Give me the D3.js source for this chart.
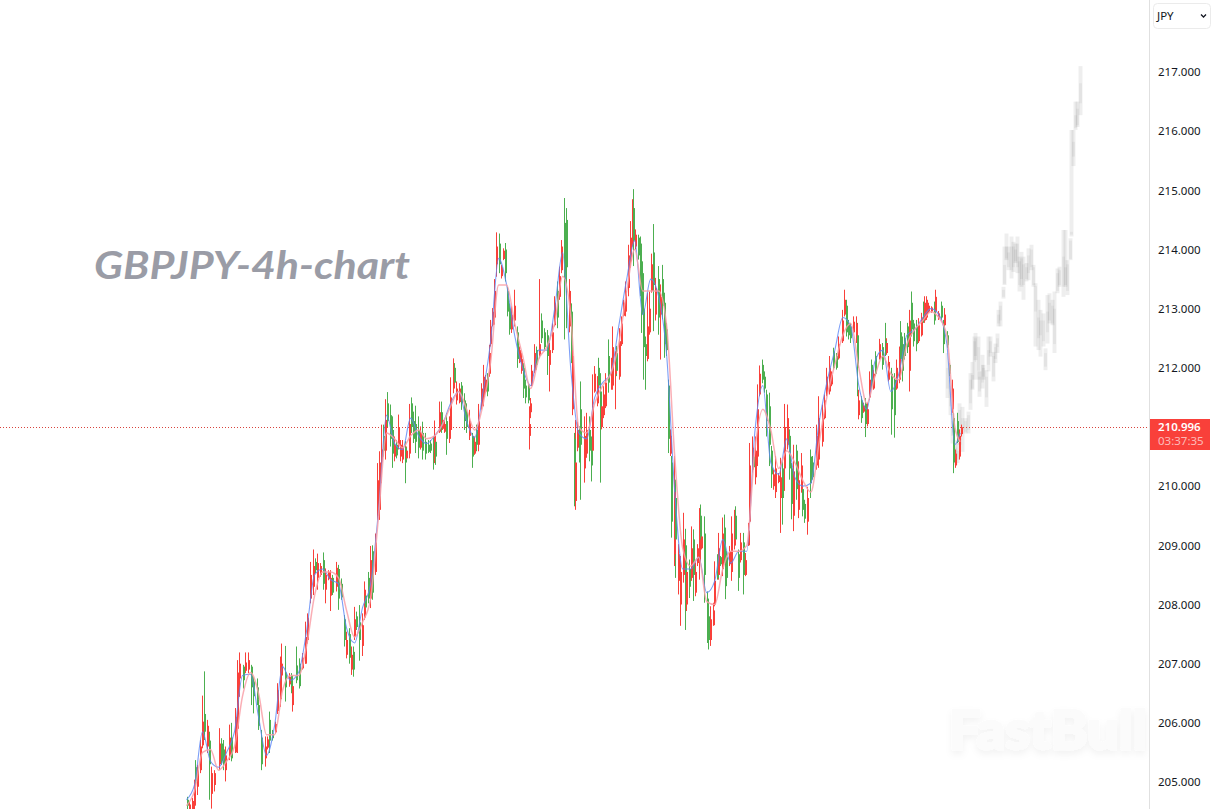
<!DOCTYPE html>
<html><head><meta charset="utf-8">
<style>html,body{margin:0;padding:0;background:#fff;overflow:hidden}svg{display:block}</style>
<script src="https://cdn.jsdelivr.net/npm/d3@7/dist/d3.min.js"></script>
</head><body><svg id="c" width="1217" height="809"></svg>
<script>
const chartTitle = "GBPJPY-4h-chart";
const watermark = "FastBull";
const currency = "JPY";
const lastPrice = 210.996;
const countdown = "03:37:35";
const priceTicks = [205,206,207,208,209,210,212,213,214,215,216,217];

const barSlot = [
0,1,2,2.75,3.25,4,5,5.75,6.5,7.75,
8.4,9.25,10.25,12,13,13.6,14.6,16,16.5,18,
18.75,19.6,21.1,22.1,23,24.25,25,26.25,26.75,28,
29.25,30,31,32,33,34,35,35.5,36.75,38.4,
39,39.6,40.9,42.1,43.4,44.25,45.25,46.25,47.4,48.1,
49,50,51.25,52.1,53,53.75,54.6,55.9,56.75,57.75,
59,59.9,60.9,61.75,62.25,62.75,63.4,64.6,65.6,66.5,67,68,68.75,
69.6,70.5,
71.4,72,72.9,73.7,74.5,75.2,76.2,77,77.9,78.4,
79.2,80.2,80.8,81.8,82.4,83.3,84.2,84.9,85.6,86.6,
87.4,88.3,89.5,90.4,91.1,92.3,92.6,93.3,94.5,95.5,
95.9,96.6,97.4,98.3,98.9,99.8,100.4,101.2,102.3,102.9,
103.9,104.9,105.9,106.9,107.8,108.4,109.3,110.4,111,111.9,
112.6,113.2,113.6,114.5,115.4,116.1,117.2,117.9,118.7,119.5,
120.2,120.8,121.7,122.7,123.7,124.5,125.4,126.2,127,127.9,
128.2,128.7,129.3,130.2,131,132,132.9,133.9,135.1,135.8,
137,137.9,138.7,139.5,140.5,141.4,142.4,143.3,144,144.5,
145.1,145.6,146.2,147,147.6,148.9,149.9,150.7,151.6,152,
152.9,153.8,154.1,155.1,155.5,156.1,157,157.9,159,159.5,
160.5,161.1,162,162.9,163.6,164.5,165.5,166.4,167,167.4,
168.2,169.1,169.9,170.4,171,172,172.6,173.2,174.1,174.9,
175,175.7,176.6,177.6,178.1,178.9,179.7,180.4,181.1,181.6,
182.9,183.2,184.1,185.1,186,186.7,187.4,188.2,189.1,189.7,
190.7,191.4,192.1,192.6,193,193.9,195.1,195.5,196.1,197.2,
197.8,198.9,199.1,199.9,200.6,201.4,201.7,202.2,203.2,204.1,
205.1,205.7,206.7,207.6,208.5,209.5,210.5,211,212,212.2,
213.2,213.8,214.7,215.7,216.4,217.2,218.2,219.1,219.8,220.7,
221.6,222.4,223.3,224,225,225.9,226.5,227.5,228.5,229.3,
230.2,230.8,231.6,232.7,233.7,234.6,235.8,236.8,238.1,239,
239.7,240.7,241.6,242.5,243.4,244.3,245.6,246.4,247.2,248.1,
248.7,250,251,251.5,251.8,252.8,253.7,254.3,255.2,255.7,
256.6,257.5,258.2,259.6,260.6,261.8,262.1,263.1,264,265,
266,267,267.5,268.3,269.1,270,270.8,271.5,272.2,273.3,
274.3,275.2,276.2,276.5,277.1,278.1,279,280,280.6,281.6,
282.8,283.5,284,285,285.8,286.8,287.2,288.1,288.7,289.6,290.3
];
const barHigh = [
204.75,204.66,204.73,205.04,205.37,205.29,205.71,206.46,206.87,206.05,
205.85,205.26,205.20,205.91,205.74,205.71,205.60,205.97,206.00,206.25,
207.06,207.19,206.98,207.19,207.19,206.98,206.78,206.75,206.40,205.88,
205.77,205.77,206.19,205.88,206.02,206.67,207.12,207.34,207.30,206.84,
206.84,206.73,207.29,207.09,207.18,207.71,207.85,208.72,208.93,208.78,
208.86,208.70,208.88,208.61,208.58,208.58,208.50,208.72,208.67,208.44,
207.82,207.54,207.60,207.29,207.29,207.96,207.88,207.99,207.85,208.39,208.19,208.55,208.99,
209.00,209.20,
210.39,210.59,211.04,211.04,211.47,211.59,211.38,211.18,210.84,210.78,
211.21,210.78,210.78,210.76,210.67,211.39,211.50,211.26,211.36,211.18,
211.01,211.09,210.90,210.78,210.78,210.84,211.11,210.84,211.43,211.43,
211.21,211.12,211.23,211.18,211.84,212.16,212.08,211.77,211.74,211.76,
211.57,211.40,211.29,210.90,210.84,211.04,211.39,211.74,212.05,211.88,
211.91,212.39,212.81,213.01,213.50,214.29,214.27,213.74,214.02,214.11,
213.37,213.09,213.04,213.32,212.70,212.36,212.25,212.08,211.80,211.74,
211.35,211.49,212.05,212.40,212.36,213.50,212.92,212.67,212.64,212.42,
212.75,213.21,213.46,213.71,214.16,214.87,214.70,213.50,213.09,212.53,
210.90,211.12,211.09,211.01,211.77,211.18,211.24,211.18,210.84,211.89,
212.03,211.86,212.17,211.91,211.52,211.69,211.91,212.48,212.17,212.70,
212.28,212.37,212.67,212.87,213.15,213.46,214.08,214.48,214.85,215.02,
214.34,214.25,214.22,213.97,213.60,212.53,213.27,213.29,213.93,214.08,
214.43,213.52,213.72,213.41,213.74,213.27,212.76,211.80,210.96,210.51,
210.51,210.11,209.02,208.82,209.55,209.28,208.79,208.76,209.32,209.27,
208.71,209.02,209.63,209.69,209.27,209.49,208.22,208.03,207.97,208.03,
208.73,208.85,209.21,208.82,209.47,209.52,208.99,208.90,208.99,209.49,
209.60,209.66,208.93,209.21,209.21,208.87,209.38,210.73,210.84,210.56,
210.84,211.72,212.04,212.14,211.94,211.63,211.58,210.68,210.28,210.51,
210.22,210.48,210.45,211.39,211.38,210.96,210.39,210.70,210.70,210.42,
210.56,209.99,209.77,209.99,210.62,210.51,211.04,211.52,211.38,211.55,
212.00,212.20,211.94,212.34,212.25,212.53,212.98,213.32,213.15,212.81,
212.76,212.87,212.87,212.76,211.63,211.52,211.41,211.49,211.41,211.94,
212.14,211.97,212.28,212.49,212.42,212.76,212.50,212.20,212.00,211.91,
212.14,212.36,212.79,212.53,212.59,212.76,212.98,213.29,212.81,212.81,
212.84,212.93,213.12,213.21,213.21,213.10,213.04,213.12,213.32,212.96,
213.12,212.81,213.01,212.62,212.08,211.80,211.24,210.62,211.24,210.96,211.04
];
const barLow = [
204.50,204.50,204.50,204.52,204.92,204.78,205.15,205.57,205.71,205.49,
204.70,204.55,204.84,205.20,205.29,205.20,205.01,205.37,205.35,205.49,
205.49,206.44,206.58,206.84,206.84,206.30,206.16,206.30,205.88,205.20,
205.26,205.55,205.49,205.70,205.82,206.15,206.27,206.67,206.36,206.61,
206.50,206.19,206.67,206.58,206.90,207.00,207.34,208.02,208.16,208.53,
208.25,208.47,208.25,208.02,208.41,207.89,208.16,208.22,207.91,208.08,
207.29,207.09,207.00,206.81,206.78,207.40,207.57,207.05,207.13,207.74,207.91,208.02,207.94,
208.08,208.50,
209.43,209.43,210.05,210.50,210.45,211.00,210.67,210.31,210.42,210.47,
210.62,210.42,210.39,210.05,210.45,210.47,210.90,210.73,210.56,210.47,
210.62,210.45,210.45,210.56,210.56,210.28,210.39,210.36,210.90,210.90,
210.95,210.90,210.53,210.73,210.84,211.57,211.69,211.38,211.40,211.29,
210.95,210.90,210.78,210.31,210.53,210.59,210.59,211.29,211.35,211.57,
211.52,211.85,212.36,212.70,212.73,213.54,213.60,213.51,213.82,213.46,
212.87,212.56,212.59,212.70,212.00,212.08,211.90,211.49,211.40,211.40,
210.62,211.15,211.69,211.91,211.97,212.16,212.42,212.28,211.88,211.60,
212.25,212.70,212.67,213.15,213.60,212.48,212.67,212.60,212.08,211.20,
209.66,209.60,210.59,210.40,209.77,210.06,210.48,210.42,210.08,210.48,
211.58,211.35,211.58,210.06,210.96,211.15,211.32,211.58,211.63,211.63,
211.30,211.86,211.80,212.37,212.87,212.87,213.21,213.69,214.05,213.72,
214.00,213.83,213.21,212.59,211.80,211.63,212.11,212.56,213.27,213.58,
212.62,212.80,212.56,212.14,212.82,212.17,212.20,210.56,210.51,209.13,
208.65,208.45,208.17,207.64,208.37,207.57,207.89,208.11,208.40,208.06,
208.14,208.65,208.42,209.02,208.93,208.03,207.35,207.24,207.30,207.64,
207.97,208.42,208.42,208.65,208.48,208.70,208.09,208.31,208.65,208.40,
208.93,209.00,208.23,208.71,208.17,208.48,208.99,209.38,210.23,210.28,
210.03,210.34,211.52,211.74,211.58,210.84,210.34,209.97,209.94,209.80,
210.05,209.21,209.35,209.92,210.62,210.11,209.44,209.24,209.77,209.46,
209.89,209.49,209.38,209.18,209.80,210.11,210.28,210.31,210.67,211.13,
211.52,211.55,211.69,211.97,211.97,212.14,212.42,212.87,212.53,212.48,
212.42,212.59,212.42,211.52,211.13,211.07,211.24,210.83,211.01,211.46,
211.63,211.63,211.86,212.14,211.97,212.20,212.22,211.77,210.87,210.82,
211.63,211.74,212.05,211.77,212.14,212.25,211.60,212.53,212.36,212.28,
212.42,212.53,212.76,212.76,212.81,212.93,212.93,212.73,212.93,212.81,
212.81,212.25,212.70,212.34,211.86,211.24,210.22,210.31,210.73,210.45,210.84
];
const barOpen = [
204.70,204.52,204.54,204.60,205.25,204.92,205.20,205.62,206.15,205.60,
205.70,204.80,204.95,205.30,205.65,205.55,205.20,205.45,205.75,205.50,
205.90,206.75,206.95,206.88,206.90,206.95,206.70,206.60,206.30,205.75,
205.40,205.58,206.05,205.82,205.84,206.20,206.40,206.80,206.85,206.65,
206.80,206.30,206.97,207.00,206.92,207.00,207.40,208.10,208.30,208.72,
208.45,208.50,208.75,208.25,208.43,208.15,208.45,208.30,208.60,208.35,
207.75,207.15,207.50,206.90,207.20,207.45,207.80,207.70,207.30,207.78,208.15,208.45,208.10,
208.90,208.55,
209.50,209.60,210.40,210.85,210.60,211.40,211.20,210.95,210.50,210.70,
210.70,210.50,210.45,210.65,210.47,210.55,211.40,211.10,211.05,210.95,
210.65,210.90,210.75,210.70,210.72,210.72,210.55,210.75,210.92,211.25,
210.97,210.92,211.10,210.80,210.95,211.65,212.00,211.45,211.42,211.70,
211.45,211.25,210.85,210.85,210.55,210.95,210.70,211.35,211.50,211.60,
211.85,211.90,212.40,212.72,212.85,213.75,214.10,213.55,213.84,214.00,
213.30,213.00,212.65,212.80,212.60,212.10,211.95,212.00,211.70,211.70,
210.85,211.25,211.70,211.95,212.30,212.20,212.80,212.60,212.55,212.05,
212.30,212.72,213.30,213.20,213.65,214.45,214.50,212.70,212.95,211.30,
210.80,209.75,210.65,210.90,211.30,210.30,210.55,210.95,210.70,210.60,
211.60,211.40,212.00,211.60,211.00,211.20,211.35,212.20,211.65,211.70,
211.90,212.25,211.85,212.40,212.88,212.95,213.35,213.80,214.10,214.70,
214.05,214.20,214.10,213.80,213.00,212.40,212.15,212.60,213.30,213.60,
213.95,212.90,213.50,212.90,213.50,213.10,212.65,211.70,210.55,210.40,
208.85,209.80,208.40,208.00,208.50,209.00,208.00,208.60,208.45,209.10,
208.20,208.70,208.70,209.50,208.95,209.20,208.10,207.80,207.40,207.65,
208.00,208.70,208.50,208.80,208.60,209.30,208.90,208.80,208.68,208.55,
209.00,209.50,208.85,208.75,209.05,208.50,209.00,209.40,210.30,210.50,
210.15,210.50,211.55,212.05,211.85,211.55,211.35,210.60,210.00,209.90,
210.07,209.80,210.30,210.30,210.70,210.85,210.30,209.50,210.60,209.60,
209.95,209.95,209.70,209.40,210.50,210.40,210.35,210.45,210.75,211.15,
211.55,211.60,211.72,212.28,212.20,212.16,212.45,212.90,213.05,212.75,
212.70,212.60,212.45,212.55,211.20,211.45,211.26,211.40,211.05,211.50,
212.05,211.65,212.20,212.15,212.35,212.45,212.25,211.80,211.90,211.80,
211.65,211.80,212.60,212.40,212.50,212.70,211.95,213.10,212.75,212.70,
212.45,212.55,213.05,212.80,212.85,212.95,212.95,213.05,212.95,212.83,
213.05,212.75,212.72,212.55,212.05,211.30,211.15,210.35,211.10,210.50,210.88
];
const barClose = [
204.60,204.62,204.68,204.98,205.02,205.20,205.60,206.02,205.85,205.95,
205.30,205.15,205.15,205.65,205.35,205.30,205.45,205.75,205.40,206.10,
206.85,207.00,206.72,207.02,207.06,206.60,206.45,206.40,205.95,205.30,
205.60,205.72,205.70,205.74,205.98,206.55,206.90,207.00,206.60,206.78,
206.55,206.62,206.72,206.62,207.10,207.45,207.78,208.50,208.65,208.58,
208.70,208.65,208.35,208.50,208.55,208.45,208.20,208.62,208.10,208.12,
207.40,207.40,207.10,207.15,206.90,207.75,207.62,207.40,207.65,208.25,207.95,208.10,208.75,
208.20,209.05,
210.10,210.40,210.62,210.60,211.12,211.10,210.80,210.55,210.70,210.52,
211.00,210.70,210.65,210.40,210.60,211.05,211.00,210.80,210.75,210.65,
210.90,210.60,210.55,210.58,210.60,210.55,210.85,210.50,211.25,211.00,
211.12,211.05,210.80,211.05,211.50,212.00,211.75,211.65,211.65,211.40,
211.10,211.00,211.10,210.50,210.75,210.70,211.10,211.65,211.85,211.80,
211.60,212.25,212.70,212.95,213.30,214.05,213.75,213.70,213.98,213.60,
212.95,212.65,212.90,213.05,212.15,212.30,212.15,211.65,211.50,211.45,
211.05,211.40,211.95,212.25,212.05,212.40,212.50,212.35,212.20,212.30,
212.60,213.10,212.85,213.55,214.05,213.50,213.70,213.30,212.30,212.20,
210.20,210.40,210.95,210.50,210.70,210.85,210.95,210.60,210.35,211.35,
211.90,211.75,211.70,211.30,211.35,211.55,211.75,211.75,211.95,212.35,
212.15,211.95,212.45,212.75,213.10,213.30,213.90,214.20,214.60,214.15,
214.25,213.90,213.40,212.90,212.35,212.20,212.70,213.00,213.75,213.90,
213.40,213.35,212.85,213.20,213.05,212.40,212.30,210.80,210.85,209.40,
209.90,209.10,208.85,208.55,209.10,208.20,208.55,208.30,208.95,208.50,
208.55,208.95,209.40,209.10,209.15,208.50,207.60,207.40,207.75,207.90,
208.40,208.45,208.95,208.68,209.20,208.90,208.40,208.45,208.90,209.20,
209.40,209.10,208.45,209.05,208.50,208.75,209.25,210.35,210.65,210.32,
210.60,211.30,211.90,211.80,211.65,211.10,210.70,210.20,210.20,210.30,
210.18,210.15,209.80,211.00,211.15,210.30,209.70,210.25,209.95,210.10,
210.35,209.60,209.45,209.80,210.05,210.15,210.85,211.15,211.15,211.45,
211.85,212.00,211.88,212.00,212.00,212.40,212.80,213.15,212.60,212.55,
212.50,212.78,212.75,212.00,211.45,211.15,211.36,211.05,211.30,211.80,
211.70,211.90,211.90,212.40,212.05,212.25,212.42,212.10,211.30,211.20,
212.00,212.20,212.15,211.95,212.20,212.35,212.80,212.65,212.45,212.40,
212.72,212.85,212.80,213.10,213.15,213.05,213.02,212.80,213.20,212.92,
212.85,212.40,212.90,212.38,211.90,211.65,210.40,210.55,210.75,210.85,210.996
];

const maSlot = [0,3,6,9,12,15,18,21,24,27,30,33,36,39,42,45,48,51,54,57,60,63,66,69,72,75,78,81,84,87,90,93,96,99,102,105,108,111,114,117,120,123,126,129,132,135,138,141,144,147,150,153,156,159,162,165,168,171,174,177,180,183,186,189,192,195,198,201,204,207,210,213,216,219,222,225,228,231,234,237,240,243,246,249,252,255,258,261,264,267,270,273,276,279,282,285,288,290];
const maFast = [204.7,204.95,205.85,205.35,205.25,205.5,205.85,206.8,206.82,206.1,205.45,205.95,206.95,206.72,206.85,207.55,208.5,208.6,208.42,208.35,207.6,207.35,207.95,208.35,209.6,211.2,210.72,210.62,211.15,210.85,210.72,210.85,211.05,211.4,211.6,211.1,210.82,211.55,212.45,213.85,213.4,212.55,212.0,211.7,212.3,212.3,213.0,213.95,212.0,210.9,210.8,211.5,211.75,211.9,212.7,213.5,214.15,212.9,213.5,213.2,212.2,209.9,208.6,208.6,208.8,208.2,208.4,209.1,208.7,208.9,208.9,210.9,211.7,210.4,210.2,210.8,210.15,210.0,210.05,211.05,211.75,212.3,212.85,212.7,211.7,211.3,212.1,212.3,211.6,211.9,212.55,212.65,212.85,213.0,212.9,212.4,210.7,210.9];
const maSlow = [204.6,204.85,205.5,205.55,205.2,205.35,205.6,206.45,206.85,206.5,205.8,205.8,206.55,206.8,206.8,207.3,208.15,208.55,208.55,208.45,207.9,207.45,207.7,208.1,209.5,210.9,210.8,210.65,210.85,210.95,210.8,210.85,211.05,211.35,211.6,211.3,210.95,211.35,212.1,213.4,213.4,212.75,212.2,211.65,212.15,212.35,212.75,213.55,212.9,211.0,210.9,211.4,211.7,211.9,212.4,213.3,214.0,213.3,213.3,213.3,212.7,210.5,208.95,208.65,208.8,208.05,208.0,208.6,208.9,208.9,209.0,210.6,211.3,210.95,210.3,210.6,210.4,210.1,209.9,210.7,211.5,212.05,212.55,212.75,212.0,211.4,211.85,212.2,211.9,211.8,212.4,212.65,212.8,212.95,212.85,212.55,211.0,210.75];

const ghostSlot = [285,286,287,288,288.7,289.7,290.7,291.7,293,293.6,294.3,295,295.6,296.5,297.15,298,298.65,299.5,300.5,301.15,302.15,303,303.65,304.3,304.9,305.9,306.4,307.3,308,308.9,309.65,310.4,311.15,311.9,312.8,313.65,314.5,315.5,316.4,317.15,318,319,319.9,320.9,321.65,322.4,323.4,324.5,325.15,326.15,327.15,328.4,329.4,330.15,331.15,331.4,332.2,333,333.9,334.9];
const ghostHigh = [212.25,211.80,211.23,210.78,210.73,211.40,211.34,211.15,211.26,211.91,212.10,212.53,212.59,212.53,211.94,212.22,212.05,211.96,212.53,212.53,212.27,212.41,212.58,212.98,213.12,213.37,214.05,214.27,214.05,214.22,214.13,214.10,214.22,213.88,213.96,213.88,213.77,214.02,214.08,213.74,213.43,213.15,212.98,212.92,212.33,213.23,213.26,213.15,213.29,213.68,213.71,214.33,214.33,213.82,214.19,216.02,216.02,216.50,216.50,217.10];
const ghostLow = [211.49,211.20,210.72,210.36,210.39,210.70,210.58,210.89,210.89,211.29,211.63,211.80,212.13,211.80,211.51,211.65,211.80,211.34,211.94,212.19,211.77,212.08,212.25,212.70,212.70,213.17,213.40,213.82,213.65,213.51,213.62,213.77,213.60,213.29,213.37,213.15,213.46,213.48,213.65,213.37,212.36,212.30,212.19,212.36,211.96,212.41,212.75,212.72,212.25,213.26,213.37,213.20,213.37,213.23,213.82,214.22,215.41,216.02,216.07,216.27];
const ghostTop = [212.00,211.70,211.10,210.65,210.60,211.29,211.15,211.10,211.20,211.80,211.88,212.45,212.50,212.35,211.85,212.05,212.00,211.85,212.30,212.45,212.20,212.35,212.50,212.90,213.05,213.32,213.74,214.05,213.95,214.05,214.05,214.00,214.10,213.80,213.85,213.75,213.70,213.90,214.00,213.70,213.38,212.85,212.80,212.80,212.25,212.95,213.10,213.05,213.00,213.60,213.65,213.88,213.70,213.75,214.15,214.30,215.82,216.27,216.38,216.81];
const ghostBottom = [211.65,211.35,210.85,210.45,210.45,211.01,210.95,210.92,210.95,211.40,211.65,212.10,212.20,211.95,211.60,211.75,211.85,211.50,212.05,212.25,211.85,212.15,212.35,212.75,212.80,213.20,213.42,213.85,213.70,213.65,213.70,213.80,213.70,213.40,213.50,213.40,213.50,213.60,213.70,213.40,212.95,212.50,212.55,212.45,212.02,212.60,212.80,212.75,212.40,213.30,213.40,213.37,213.40,213.30,213.84,214.25,215.57,216.05,216.10,216.47];

const W = 1217, H = 809, axisX = 1149;
const upColor = "#f9403a", downColor = "#4caf50";
const svg = d3.select("#c");
const x = d3.scaleLinear().domain([0, 290.3]).range([186.5, 961]);
const y = d3.scaleLinear().domain([205, 217]).range([782, 72]);

const defs = svg.append("defs");
defs.append("clipPath").attr("id","plot").append("rect").attr("width",axisX).attr("height",H);
const plot = svg.append("g").attr("clip-path","url(#plot)");

// watermark
const f = defs.append("filter").attr("id","wm").attr("x","-10%").attr("y","-20%").attr("width","120%").attr("height","160%");
f.append("feDropShadow").attr("dx",0).attr("dy",4).attr("stdDeviation",3.5).attr("flood-color","#000").attr("flood-opacity",0.05);
plot.append("text").text(watermark).attr("x",949).attr("y",749)
  .attr("font-family","Lato, Inter, sans-serif").attr("font-weight",900).attr("font-size",53)
  .attr("textLength",198).attr("lengthAdjust","spacingAndGlyphs")
  .attr("fill","#fbfbfb").attr("stroke","#fbfbfb").attr("stroke-width",2.5).attr("stroke-linejoin","round").attr("filter","url(#wm)");

// title
plot.append("text").text(chartTitle).attr("x",94).attr("y",279)
  .attr("font-family","Lato, sans-serif").attr("font-weight",700).attr("font-style","italic")
  .attr("font-size",39).attr("textLength",316).attr("lengthAdjust","spacingAndGlyphs").attr("fill","#9a9ca6");

// ghost projection
const ghost = plot.append("g");
ghost.selectAll("rect.w").data(ghostSlot).join("rect").attr("class","w")
  .attr("x",d=>Math.round(x(d))-1.5).attr("width",4)
  .attr("y",(d,i)=>y(ghostHigh[i])).attr("height",(d,i)=>y(ghostLow[i])-y(ghostHigh[i]))
  .attr("fill","#000").attr("fill-opacity",0.065);
ghost.selectAll("rect.b").data(ghostSlot).join("rect").attr("class","b")
  .attr("x",d=>Math.round(x(d))-1).attr("width",3)
  .attr("y",(d,i)=>y(ghostTop[i])).attr("height",(d,i)=>y(ghostBottom[i])-y(ghostTop[i]))
  .attr("fill","#000").attr("fill-opacity",0.045);

// price line
plot.append("line").attr("x1",0).attr("x2",axisX).attr("y1",Math.round(y(lastPrice))+0.5).attr("y2",Math.round(y(lastPrice))+0.5)
  .attr("stroke","#d8433c").attr("stroke-width",1).attr("stroke-dasharray","1 2");

// candles
const col = i => barClose[i] >= barOpen[i] ? upColor : downColor;
plot.append("g").selectAll("rect").data(barSlot).join("rect")
  .attr("x",d=>Math.round(x(d))).attr("width",1)
  .attr("y",(d,i)=>y(barHigh[i])).attr("height",(d,i)=>y(barLow[i])-y(barHigh[i]))
  .attr("fill",(d,i)=>col(i));
plot.append("g").selectAll("rect").data(barSlot).join("rect")
  .attr("x",d=>Math.round(x(d))).attr("width",2)
  .attr("y",(d,i)=>y(Math.max(barOpen[i],barClose[i])))
  .attr("height",(d,i)=>Math.abs(y(barOpen[i])-y(barClose[i])))
  .attr("fill",(d,i)=>col(i));

// moving averages
const line = arr => d3.line().x((d,i)=>x(maSlot[i])).y(d=>y(d)).curve(d3.curveMonotoneX)(arr);
plot.append("path").attr("d",line(maFast)).attr("fill","none").attr("stroke","#5b86f5").attr("stroke-width",1.1).attr("stroke-opacity",0.8);
plot.append("path").attr("d",line(maSlow)).attr("fill","none").attr("stroke","#f9a0a8").attr("stroke-width",1.5).attr("stroke-opacity",0.85);

// axis panel
const panel = svg.append("g");
panel.append("rect").attr("x",axisX).attr("y",0).attr("width",W-axisX).attr("height",H).attr("fill","#fff");
panel.append("line").attr("x1",axisX+0.5).attr("x2",axisX+0.5).attr("y1",0).attr("y2",H).attr("stroke","#e0e0e0");
const axis = d3.axisRight(y).tickValues(priceTicks).tickSize(0).tickPadding(0).tickFormat(d3.format(".3f"));
const ag = panel.append("g").attr("transform",`translate(1158,0)`).call(axis);
ag.select(".domain").remove();
ag.selectAll("text").attr("font-family","'Noto Sans', sans-serif").attr("font-size",11.5).attr("fill","#131722");

// currency button
panel.append("rect").attr("x",1153.5).attr("y",3.5).attr("width",57).attr("height",25).attr("rx",4).attr("fill","#fff").attr("stroke","#ebebeb");
panel.append("text").text(currency).attr("x",1157).attr("y",20).attr("font-family","'Noto Sans', sans-serif").attr("font-size",11.5).attr("fill","#131722");
panel.append("path").attr("d","M1201 14.5 L1203.5 17 L1206 14.5").attr("fill","none").attr("stroke","#131722").attr("stroke-width",1.3);

// last price tag
panel.append("rect").attr("x",1150).attr("y",419).attr("width",60).attr("height",31).attr("fill",upColor);
panel.append("text").text(d3.format(".3f")(lastPrice)).attr("x",1158).attr("y",431)
  .attr("font-family","'Noto Sans', sans-serif").attr("font-size",11.5).attr("font-weight",600).attr("fill","#fff");
panel.append("text").text(countdown).attr("x",1158).attr("y",445)
  .attr("font-family","'Noto Sans', sans-serif").attr("font-size",11.5).attr("fill","#fff").attr("fill-opacity",0.65);
</script></body></html>
